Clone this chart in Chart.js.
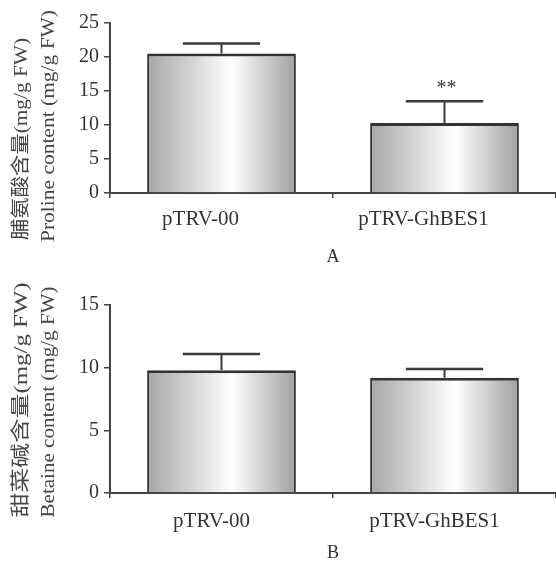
<!DOCTYPE html>
<html lang="zh">
<head>
    <meta charset="UTF-8">
    <title>Proline and betaine content</title>
    <script src="https://cdn.jsdelivr.net/npm/chart.js@4.4.1/dist/chart.umd.min.js"></script>
    <style>
        body { margin: 0; background: #fff; }
        .panel { position: relative; width: 556px; }
        canvas { display: block; }
    </style>
</head>
<body>
    <div class="panel" style="height: 280px;"><canvas id="chartA" width="556" height="280"></canvas></div>
    <div class="panel" style="height: 282px;"><canvas id="chartB" width="556" height="282"></canvas></div>

    <script>
        // data
        const groups = ['pTRV-00', 'pTRV-GhBES1'];

        const prolineMeans = [20.5, 10.3];
        const prolineErrors = [1.5, 3.2];
        const prolineMarks = ['', '**'];
        const prolineTicks = [0, 5, 10, 15, 20, 25];
        const prolineTitle = ['脯氨酸含量(mg/g FW)', 'Proline content (mg/g FW)'];

        const betaineMeans = [9.8, 9.2];
        const betaineErrors = [1.3, 0.7];
        const betaineMarks = ['', ''];
        const betaineTicks = [0, 5, 10, 15];
        const betaineTitle = ['甜菜碱含量(mg/g FW)', 'Betaine content (mg/g FW)'];

        const SERIF = "'Liberation Serif', 'Times New Roman', 'Noto Sans CJK SC', serif";
        const INK = '#3a3a3a';
        const BAR_FRAC = 0.667;

        // grey-white-grey shading across each bar
        function barShade(c) {
            const xs = c.chart.scales.x;
            if (!xs || c.dataIndex === undefined) return '#d0d0d0';
            const n = c.chart.data.labels.length;
            const cx = xs.getPixelForValue(c.dataIndex);
            const half = xs.width / n * BAR_FRAC / 2;
            if (!isFinite(cx) || !isFinite(half) || half <= 0) return '#d0d0d0';
            const g = c.chart.ctx.createLinearGradient(cx - half, 0, cx + half, 0);
            g.addColorStop(0, '#a6a6a6');
            g.addColorStop(0.57, '#ffffff');
            g.addColorStop(1, '#a0a0a0');
            return g;
        }

        // error bars + significance stars
        const errorBars = {
            id: 'errorBars',
            afterDatasetsDraw(chart) {
                const ds = chart.data.datasets[0];
                const meta = chart.getDatasetMeta(0);
                const y = chart.scales.y;
                const ctx = chart.ctx;
                ctx.save();
                ctx.strokeStyle = INK;
                ctx.fillStyle = INK;
                meta.data.forEach(function(bar, i) {
                    const top = y.getPixelForValue(ds.data[i] + ds.errors[i]);
                    const cap = bar.width * 0.26;
                    ctx.lineWidth = 2;
                    ctx.beginPath();
                    ctx.moveTo(bar.x, bar.y);
                    ctx.lineTo(bar.x, top);
                    ctx.stroke();
                    ctx.lineWidth = 2.5;
                    ctx.beginPath();
                    ctx.moveTo(bar.x - cap, top);
                    ctx.lineTo(bar.x + cap, top);
                    ctx.stroke();
                    if (ds.marks[i]) {
                        ctx.font = '20px ' + SERIF;
                        ctx.textAlign = 'center';
                        ctx.textBaseline = 'middle';
                        ctx.fillText(ds.marks[i], bar.x + 2, top - 12);
                    }
                });
                ctx.restore();
            }
        };

        // two-line rotated y title, each line squeezed/stretched to its length in the figure
        const yTitle = {
            id: 'yTitle',
            afterDraw(chart, args, opts) {
                const ctx = chart.ctx;
                ctx.save();
                ctx.fillStyle = '#444';
                ctx.font = '19px ' + SERIF;
                ctx.textAlign = 'center';
                ctx.textBaseline = 'middle';
                opts.lines.forEach(function(line, i) {
                    const pos = opts.pos[i];
                    const k = pos.len / ctx.measureText(line).width;
                    ctx.save();
                    ctx.translate(pos.x, pos.y);
                    ctx.rotate(-Math.PI / 2);
                    ctx.scale(k, 1);
                    ctx.fillText(line, 0, 0);
                    ctx.restore();
                });
                ctx.restore();
            }
        };

        function makeChart(id, means, errors, marks, tickValues, titleLines, caption, lay) {
            return new Chart(document.getElementById(id), {
                type: 'bar',
                data: {
                    labels: groups,
                    datasets: [{
                        data: means,
                        errors: errors,
                        marks: marks,
                        backgroundColor: barShade,
                        borderColor: '#333',
                        borderWidth: { top: 3, left: 2, right: 2, bottom: 0 },
                        borderSkipped: 'start',
                        categoryPercentage: 1,
                        barPercentage: BAR_FRAC
                    }]
                },
                options: {
                    responsive: false,
                    animation: false,
                    layout: { padding: { top: lay.top, right: 0, left: 0, bottom: 0 } },
                    plugins: {
                        legend: { display: false },
                        tooltip: { enabled: false },
                        yTitle: { lines: titleLines, pos: lay.title }
                    },
                    scales: {
                        x: {
                            afterFit: function(s) { s.height = lay.xHeight; },
                            grid: { display: true, drawOnChartArea: false, drawTicks: true, tickLength: 5, color: '#444', lineWidth: 1.5, offset: true },
                            border: { color: '#444', width: 2 },
                            ticks: { color: '#333', font: { family: SERIF, size: 21 }, padding: lay.labelPad, labelOffset: lay.labelOffset, maxRotation: 0 },
                            title: { display: true, text: caption, color: '#333', font: { family: SERIF, size: 18, lineHeight: 1 }, padding: { top: 0, bottom: lay.captionPad } }
                        },
                        y: {
                            min: tickValues[0],
                            max: tickValues[tickValues.length - 1],
                            afterFit: function(s) { s.width = 110; },
                            afterBuildTicks: function(s) { s.ticks = tickValues.map(function(v) { return { value: v }; }); },
                            grid: { display: true, drawOnChartArea: false, tickLength: 6, color: '#444', lineWidth: 1.5 },
                            border: { color: '#444', width: 2 },
                            ticks: { color: '#333', font: { family: SERIF, size: 20 }, padding: 5 }
                        }
                    }
                },
                plugins: [errorBars, yTitle]
            });
        }

        makeChart('chartA', prolineMeans, prolineErrors, prolineMarks, prolineTicks, prolineTitle, 'A', {
            top: 23, xHeight: 87, labelOffset: -21, labelPad: 9, captionPad: 14,
            title: [{ x: 22, y: 139, len: 202 }, { x: 49, y: 126, len: 232 }]
        });
        makeChart('chartB', betaineMeans, betaineErrors, betaineMarks, betaineTicks, betaineTitle, 'B', {
            top: 25, xHeight: 69, labelOffset: -10, labelPad: 11, captionPad: 0,
            title: [{ x: 22, y: 120, len: 235 }, { x: 49, y: 122, len: 231 }]
        });
    </script>
</body>
</html>
